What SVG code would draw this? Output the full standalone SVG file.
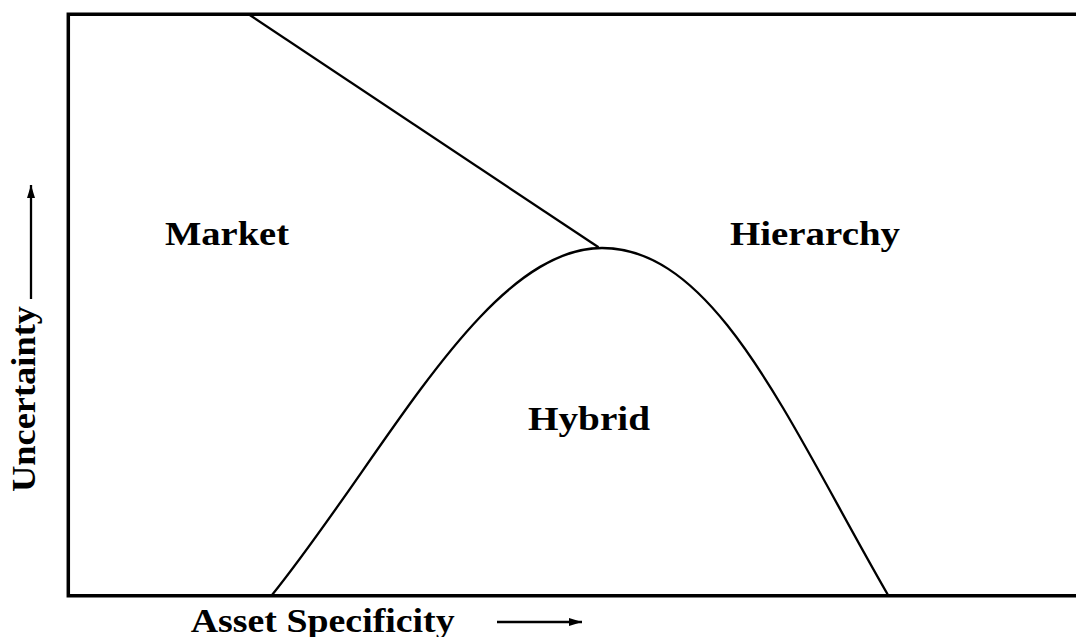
<svg xmlns="http://www.w3.org/2000/svg" width="1076" height="637" viewBox="0 0 1076 637">
<style>
.lbl{font-family:"Liberation Serif","Times New Roman",serif;font-weight:bold;font-size:33px;fill:#000}
.ln{fill:none;stroke:#000;stroke-width:2.3}
</style>
<defs>
<marker id="ah" markerWidth="13" markerHeight="8" refX="13" refY="4" orient="auto" markerUnits="userSpaceOnUse">
<path d="M0,0 L13,4 L0,8 Z" fill="#000"/>
</marker>
</defs>
<rect width="1076" height="637" fill="#fff"/>
<g id="frame">
<path d="M1076,14.2 H68.3 V595.8 H1076" fill="none" stroke="#000" stroke-width="3.5"/>
</g>
<g id="connectors">
<line class="ln" x1="249" y1="14.5" x2="598.5" y2="247.3"/>
<path class="ln" d="M272,595 C387,452 486.5,248 602,248 C716,248 788,421.5 888,595"/>
<line class="ln" x1="31" y1="299" x2="31" y2="185" marker-end="url(#ah)"/>
<line class="ln" x1="497" y1="622" x2="582" y2="622" marker-end="url(#ah)"/>
</g>
<g id="market"><text class="lbl" x="165" y="245" textLength="124" lengthAdjust="spacingAndGlyphs">Market</text></g>
<g id="hierarchy"><text class="lbl" x="730" y="245" textLength="170" lengthAdjust="spacingAndGlyphs">Hierarchy</text></g>
<g id="hybrid"><text class="lbl" x="528" y="430" textLength="122" lengthAdjust="spacingAndGlyphs">Hybrid</text></g>
<g id="x-axis-label"><text class="lbl" x="190.7" y="632" textLength="264" lengthAdjust="spacingAndGlyphs">Asset Specificity</text></g>
<g id="y-axis-label"><text class="lbl" transform="translate(34.5,492) rotate(-90)" x="0" y="0" textLength="186" lengthAdjust="spacingAndGlyphs">Uncertainty</text></g>
</svg>
